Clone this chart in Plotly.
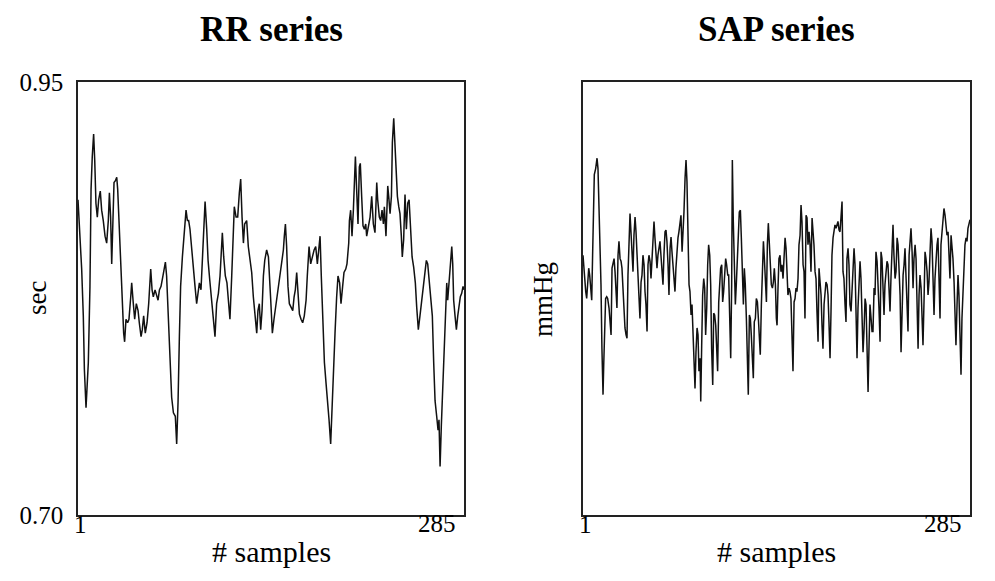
import plotly.graph_objects as go

# ---------------- data ----------------
rr_samples = [
    1.0, 3.7, 4.9, 5.7, 6.9, 8.6, 9.8, 10.6, 11.5, 12.5, 13.3, 14.2, 15.2, 16.2, 17.4, 18.4, 19.6, 20.9,
    22.1, 23.3, 24.1, 25.0, 25.8, 26.5, 27.5, 28.5, 29.5, 30.2, 31.4, 32.4, 33.6, 34.6, 35.3, 36.3, 37.5,
    38.5, 39.8, 40.5, 41.7, 42.7, 43.9, 45.2, 46.1, 47.4, 48.3, 49.3, 50.5, 51.8, 53.0, 54.0, 54.5, 55.5,
    56.4, 57.7, 58.9, 59.9, 60.9, 62.1, 63.5, 64.5, 65.3, 66.2, 67.5, 68.7, 69.9, 71.2, 72.6, 73.6, 74.6,
    75.6, 76.5, 77.8, 79.0, 80.5, 81.5, 82.4, 83.4, 84.6, 85.9, 87.1, 88.3, 89.3, 90.3, 91.5, 92.7, 93.7,
    94.5, 95.7, 96.7, 97.9, 99.4, 100.6, 101.8, 103.0, 104.3, 105.5, 106.5, 107.2, 108.2, 109.4, 110.6,
    111.6, 112.8, 114.1, 115.1, 116.0, 117.3, 118.5, 119.7, 120.7, 121.7, 122.7, 123.6, 125.1, 126.3,
    127.6, 128.8, 130.0, 131.2, 132.5, 133.4, 134.4, 135.4, 136.4, 137.4, 138.4, 139.8, 141.1,
    142.8, 144.0, 145.2, 146.7, 148.2, 149.6, 150.9, 152.1, 152.8, 153.6, 154.5, 155.5, 156.5, 157.7,
    159.0, 160.0, 160.9, 161.9, 162.9, 163.9, 165.1, 166.3, 167.5, 168.8, 169.7, 171.0, 172.2, 173.4,
    174.7, 175.9, 177.1, 178.1, 179.1, 180.0, 181.0, 182.3, 183.5, 184.7, 185.7, 186.9, 187.9, 188.9,
    190.1, 191.3, 192.3, 193.5, 194.5, 195.7, 196.7, 198.0, 198.9, 200.2, 200.7, 201.6, 202.6, 203.6,
    204.3, 205.1, 206.0, 207.0, 208.0, 208.7, 209.7, 210.7, 211.7, 212.7, 213.4, 214.6, 215.9, 217.1,
    218.3, 219.5, 220.8, 221.5, 222.7, 223.7, 224.7, 225.7, 226.4, 227.6, 228.9, 229.6, 230.6, 231.6,
    232.3, 233.3, 234.0, 235.0, 236.0, 237.0, 237.9, 238.9, 239.6, 240.6, 241.6, 242.6, 243.6, 244.6,
    245.5, 246.8, 248.0, 249.2, 250.2, 251.4, 252.6, 253.6, 254.9, 256.1, 257.3, 258.3, 259.5, 260.7,
    261.7, 262.7, 263.7, 264.9, 265.9, 266.6, 267.4, 268.3, 269.3, 270.3, 271.3, 272.3, 273.0, 274.0,
    275.0, 276.0, 276.7, 277.4, 278.4, 279.4, 280.4, 281.3, 282.3, 283.3, 284.3, 285.0,
]
rr_sec = [
    0.882, 0.842, 0.815, 0.784, 0.762, 0.788, 0.832, 0.888, 0.907, 0.920, 0.905, 0.880, 0.872, 0.882, 0.887,
    0.876, 0.870, 0.861, 0.857, 0.870, 0.886, 0.872, 0.845, 0.861, 0.892, 0.893, 0.895, 0.888, 0.865, 0.838,
    0.815, 0.805, 0.800, 0.813, 0.811, 0.813, 0.826, 0.834, 0.822, 0.813, 0.822, 0.818, 0.811, 0.803, 0.807,
    0.815, 0.805, 0.811, 0.822, 0.834, 0.842, 0.830, 0.826, 0.830, 0.826, 0.824, 0.830, 0.832, 0.838, 0.842,
    0.846, 0.838, 0.813, 0.788, 0.768, 0.759, 0.757, 0.741, 0.765, 0.803, 0.832, 0.849, 0.863, 0.876, 0.870,
    0.870, 0.865, 0.853, 0.842, 0.832, 0.822, 0.830, 0.834, 0.830, 0.849, 0.870, 0.881, 0.865, 0.847, 0.836,
    0.824, 0.813, 0.803, 0.822, 0.828, 0.838, 0.855, 0.863, 0.849, 0.838, 0.834, 0.824, 0.813, 0.838, 0.865,
    0.878, 0.872, 0.872, 0.886, 0.894, 0.872, 0.857, 0.868, 0.870, 0.855, 0.845, 0.840, 0.826, 0.815, 0.805,
    0.818, 0.822, 0.807, 0.818, 0.838, 0.847, 0.853, 0.849,
    0.824, 0.805, 0.813, 0.822, 0.830, 0.838, 0.845, 0.853, 0.861, 0.868, 0.855, 0.832, 0.822, 0.820,
    0.818, 0.826, 0.830, 0.840, 0.826, 0.816, 0.813, 0.811, 0.815, 0.824, 0.838, 0.855, 0.845, 0.849,
    0.853, 0.855, 0.845, 0.853, 0.861, 0.838, 0.811, 0.788, 0.776, 0.766, 0.755, 0.741, 0.765, 0.784,
    0.805, 0.826, 0.838, 0.834, 0.822, 0.832, 0.840, 0.842, 0.845, 0.857, 0.870, 0.876, 0.861, 0.876,
    0.899, 0.907, 0.888, 0.868, 0.901, 0.903, 0.884, 0.867, 0.865, 0.868, 0.861, 0.867, 0.872, 0.884,
    0.868, 0.863, 0.892, 0.882, 0.872, 0.870, 0.876, 0.868, 0.878, 0.861, 0.890, 0.884, 0.874, 0.884,
    0.915, 0.929, 0.915, 0.901, 0.884, 0.878, 0.874, 0.861, 0.849, 0.859, 0.885, 0.865, 0.880, 0.882,
    0.865, 0.849, 0.843, 0.834, 0.820, 0.807, 0.815, 0.822, 0.830, 0.838, 0.847, 0.845, 0.834, 0.824,
    0.815, 0.788, 0.766, 0.757, 0.749, 0.755, 0.728, 0.751, 0.772, 0.795, 0.822, 0.834, 0.824, 0.834,
    0.843, 0.855, 0.845, 0.824, 0.815, 0.807, 0.815, 0.822, 0.826, 0.828, 0.832, 0.830,
]

sap_samples = [
    1.0, 2.2, 3.0, 3.7, 4.4, 5.2, 5.9, 6.6, 7.4, 8.1, 8.6, 9.3, 10.3, 11.3, 12.0, 12.7, 13.5, 14.2, 14.9,
    15.7, 16.2, 16.9, 17.6, 18.4, 19.1, 20.1, 20.8, 21.6, 22.3, 23.0, 23.8, 24.5, 25.2, 25.9, 26.7, 27.4,
    28.2, 28.9, 29.6, 30.4, 31.1, 31.8, 32.6, 33.3, 34.0, 34.8, 35.5, 36.2, 37.0, 37.7, 38.4, 39.2, 39.9,
    40.6, 41.4, 42.1, 42.8, 43.6, 44.3, 45.0, 45.8, 46.5, 47.2, 48.0, 48.7, 49.4, 50.2, 50.9, 51.6, 52.4,
    53.1, 53.8, 54.6, 55.3, 56.0, 56.8, 57.5, 58.2, 59.0, 59.7, 60.4, 61.2, 61.9, 62.6, 63.4, 64.1, 64.9,
    65.6, 66.3, 67.0, 67.8, 68.5, 69.2, 70.0, 70.7, 71.4, 72.2,
    72.9, 73.7, 74.4, 75.1, 75.9, 76.6, 77.3, 78.1, 78.8, 79.5, 80.3, 81.0, 81.7, 82.5, 83.2, 83.9, 84.7,
    85.4, 86.1, 86.9, 87.4, 88.1, 88.8, 89.6, 90.3, 91.0, 91.8, 92.5, 93.2, 94.0, 94.7, 95.4, 96.2, 96.9,
    97.6, 98.4, 99.1, 99.8, 100.6, 101.3, 102.0, 102.8, 103.5, 104.2, 105.0, 105.7, 106.4, 107.2, 107.9,
    108.6, 109.4, 110.1, 110.6, 111.3, 112.1, 112.8, 113.5, 114.3, 115.0, 115.7, 116.5, 117.2, 117.9,
    118.7, 119.4, 120.1, 120.9, 121.6, 122.3, 123.1, 123.8, 124.5, 125.3, 126.0, 126.7, 127.5, 128.2,
    129.0, 129.7, 130.4, 131.1, 131.9, 132.6, 133.4, 134.1, 134.8, 135.6, 136.3, 137.0, 137.8, 138.5,
    139.2, 140.0, 140.7, 141.4, 142.2, 142.9,
    143.4, 144.1, 144.8, 145.6, 146.3, 147.0, 147.8, 148.5, 149.3, 150.0, 150.7, 151.4, 152.2, 152.9,
    153.6, 154.4, 155.1, 155.9, 156.6, 157.3, 158.0, 158.8, 159.5, 160.3, 161.0, 161.7, 162.5, 163.2,
    163.9, 164.7, 165.4, 166.1, 166.9, 167.6, 168.3, 169.1, 169.8, 170.5, 171.3, 172.0, 172.7, 173.5,
    174.2, 174.9, 175.7, 176.4, 177.1, 177.9, 178.6, 179.3, 180.1, 180.8, 181.5, 182.3, 183.0, 183.7,
    184.5, 185.2, 185.9, 186.7, 187.4, 188.1, 188.9, 189.6, 190.3, 191.1, 191.8, 192.5, 193.3, 194.0,
    194.7, 195.5, 196.2, 196.9, 197.7, 198.4, 199.2, 199.9, 200.6, 201.4, 202.1, 202.8, 203.6, 204.3,
    205.0, 205.8, 206.5, 207.2, 208.0, 208.7, 209.4, 210.2, 210.9, 211.6, 212.4, 213.1,
    213.8, 214.6, 215.3, 216.0, 216.8, 217.5, 218.2, 219.0, 219.7, 220.4, 221.2, 221.9, 222.6, 223.4,
    224.1, 224.8, 225.6, 226.3, 227.0, 227.8, 228.5, 229.2, 230.0, 230.7, 231.5, 232.2, 232.9, 233.7,
    234.4, 235.1, 235.9, 236.6, 237.3, 238.1, 238.8, 239.5, 240.3, 241.0, 241.7, 242.5, 243.2, 243.9,
    244.7, 245.4, 246.1, 246.9, 247.6, 248.3, 249.1, 249.8, 250.5, 251.3, 252.0, 252.7, 253.5, 254.2,
    254.9, 255.7, 256.4, 257.1, 257.9, 258.6, 259.3, 260.1, 260.8, 261.5, 262.3, 263.0, 263.7, 264.5,
    265.2, 265.9, 266.7, 267.4, 268.1, 268.9, 269.6, 270.3, 271.1, 271.8, 272.5, 273.3, 274.0, 274.7,
    275.5, 276.2, 276.9, 277.7, 278.4, 279.1, 279.9, 280.6, 281.3, 282.1, 282.8, 283.5, 285.0,
]
sap_mmhg = [
    125.0, 121.9, 120.8, 120.0, 121.9, 123.5, 122.7, 121.2, 119.8, 125.4, 128.5, 134.3, 135.0, 136.2, 135.0,
    131.6, 126.2, 121.6, 114.2, 108.9, 112.3, 117.7, 120.0, 120.2, 120.0, 118.9, 117.3, 115.8, 123.5, 124.3,
    124.6, 123.1, 120.0, 118.9, 125.0, 126.6, 124.6, 124.3, 123.5, 120.4, 117.7, 116.6, 115.8, 115.4, 122.7,
    128.1, 129.8, 127.7, 125.8, 123.1, 127.3, 129.4, 127.7, 125.0, 122.3, 118.9, 117.7, 121.9, 122.7, 125.0,
    123.9, 120.8, 119.3, 116.2, 123.9, 125.0, 124.3, 122.3, 124.6, 128.1, 128.9, 127.0, 125.0, 123.5, 125.0,
    126.2, 126.6, 125.0, 122.3, 121.6, 125.0, 127.7, 127.9, 126.6, 123.9, 120.4, 125.8, 127.1, 125.4, 123.5,
    121.9, 120.8, 123.5, 125.8, 127.0, 127.7, 128.5,
    129.6, 125.4, 127.3, 130.0, 133.9, 136.0, 133.5, 128.1, 121.6, 120.8, 118.1, 119.3, 115.8, 112.7, 109.6,
    113.8, 116.6, 115.8, 111.6, 113.1, 108.1, 114.6, 120.4, 122.3, 121.2, 115.8, 118.9, 123.9, 126.2, 125.0,
    121.6, 114.2, 110.0, 118.3, 118.1, 116.9, 114.2, 111.6, 119.6, 122.3, 123.5, 123.9, 119.6, 120.8, 123.1,
    124.6, 123.9, 122.7, 122.7, 118.5, 113.1, 121.6, 136.0, 128.9, 123.1, 119.3, 121.6, 126.2, 127.3, 130.0,
    130.2, 127.0, 123.1, 119.3, 123.5, 121.6, 117.7, 111.6, 108.9, 118.1, 117.7, 115.8, 113.8, 110.8, 117.3,
    117.7, 120.0, 119.6, 117.7, 114.6, 113.5, 119.3, 123.9, 126.6, 124.6, 121.6, 119.6, 126.2, 128.7, 126.2,
    123.1, 121.6, 121.2, 121.9, 123.5, 121.6, 117.7,
    116.9, 121.2, 124.6, 125.0, 123.1, 123.9, 122.3, 124.6, 127.0, 125.8, 122.3, 120.4, 121.2, 120.8, 120.0,
    115.4, 111.6, 119.6, 120.0, 121.2, 120.8, 122.3, 126.2, 127.3, 130.8, 128.9, 123.9, 123.1, 117.7, 129.6,
    129.3, 126.2, 127.7, 126.2, 123.1, 129.3, 128.1, 126.2, 123.1, 122.3, 118.5, 115.0, 123.5, 122.3, 120.4,
    116.9, 114.2, 119.3, 120.8, 121.9, 121.6, 120.4, 117.3, 113.1, 118.5, 125.0, 127.0, 128.1, 128.5, 128.1,
    128.5, 128.9, 127.9, 127.7, 129.3, 131.2, 123.1, 122.3, 119.3, 117.3, 124.6, 125.8, 123.9, 119.3, 118.5,
    120.8, 125.0, 125.8, 123.9, 116.6, 113.1, 118.9, 122.7, 124.3, 122.3, 117.7, 113.8, 116.2, 120.0, 119.3,
    115.0, 109.2, 114.6, 119.3, 117.7, 116.2,
    116.2, 121.2, 120.4, 125.4, 124.3, 122.3, 118.9, 115.0, 125.4, 124.6, 120.4, 118.1, 121.6, 123.1, 124.3,
    123.9, 121.6, 118.5, 122.3, 127.0, 128.5, 125.0, 122.3, 123.1, 127.0, 126.2, 123.9, 120.4, 113.8, 120.0,
    122.7, 123.9, 125.8, 122.3, 119.6, 116.2, 125.0, 127.3, 128.1, 125.4, 121.2, 124.6, 126.2, 124.6, 120.4,
    114.2, 120.4, 122.7, 121.2, 117.3, 114.6, 120.0, 125.4, 124.6, 123.1, 120.4, 121.9, 125.4, 128.1, 126.6,
    123.1, 118.1, 122.3, 125.0, 126.2, 127.0, 122.7, 117.7, 126.2, 127.7, 128.5, 130.4, 129.6, 128.1, 127.3,
    127.7, 125.4, 122.3, 127.3, 126.2, 124.6, 121.9, 118.1, 114.6, 119.3, 122.7, 120.4, 114.6, 111.2, 117.7,
    120.8, 124.6, 126.2, 127.0, 126.6, 128.1, 129.1,
]

rr_range = [0.70, 0.95]
rr_ticks = [0.70, 0.95]
rr_ticklabels = ["0.70", "0.95"]
sap_range = [95, 145]
x_first, x_last = 1, 285

# ---------------- figure ----------------
W, H = 995, 581
FONT = "Liberation Serif, Times New Roman, serif"
line_style = dict(color="#111111", width=1.5)

fig = go.Figure()
fig.add_trace(go.Scatter(x=rr_samples, y=rr_sec, mode="lines", line=line_style,
                         xaxis="x", yaxis="y", showlegend=False, hoverinfo="skip"))
fig.add_trace(go.Scatter(x=sap_samples, y=sap_mmhg, mode="lines", line=line_style,
                         xaxis="x2", yaxis="y2", showlegend=False, hoverinfo="skip"))


def px_x(p):
    return p / W


def px_y(p):
    return 1 - p / H


frame = dict(showline=True, mirror=True, linecolor="#222222", linewidth=1.6,
             showgrid=False, zeroline=False, ticks="", automargin=False)

fig.update_layout(
    width=W, height=H,
    margin=dict(l=0, r=0, t=0, b=0, autoexpand=False),
    paper_bgcolor="white", plot_bgcolor="white",
    font=dict(family=FONT, color="black", size=24),
    xaxis=dict(domain=[px_x(78), px_x(464)], range=[x_first, x_last], showticklabels=False,
               anchor="y", **frame),
    yaxis=dict(domain=[px_y(515), px_y(82)], range=rr_range, tickvals=rr_ticks,
               ticktext=rr_ticklabels, tickfont=dict(size=25, family=FONT),
               ticklabelstandoff=8, anchor="x", **frame),
    xaxis2=dict(domain=[px_x(583), px_x(970)], range=[x_first, x_last], showticklabels=False,
                anchor="y2", **frame),
    yaxis2=dict(domain=[px_y(515), px_y(82)], range=sap_range, showticklabels=False,
                anchor="x2", **frame),
)

ann = []
# titles
ann.append(dict(text="<b>RR series</b>", x=px_x(271), y=px_y(30), font=dict(size=35)))
ann.append(dict(text="<b>SAP series</b>", x=px_x(776), y=px_y(30), font=dict(size=35)))
# y-axis titles
ann.append(dict(text="sec", x=px_x(37), y=px_y(298), textangle=-90, font=dict(size=27)))
ann.append(dict(text="mmHg", x=px_x(543), y=px_y(300), textangle=-90, font=dict(size=27)))
# x-axis labels
for xl, xr in ((78, 464), (583, 970)):
    ann.append(dict(text=str(x_first), x=px_x(xl + 2), y=px_y(524), font=dict(size=25)))
    ann.append(dict(text=str(x_last), x=px_x(xr - 27), y=px_y(523), font=dict(size=25)))
    ann.append(dict(text="# samples", x=px_x((xl + xr) / 2), y=px_y(551), font=dict(size=30)))

for a in ann:
    a.update(xref="paper", yref="paper", showarrow=False, xanchor="center", yanchor="middle")
    a["font"].update(family=FONT, color="black")
fig.update_layout(annotations=ann)

fig.write_html("out.html")
